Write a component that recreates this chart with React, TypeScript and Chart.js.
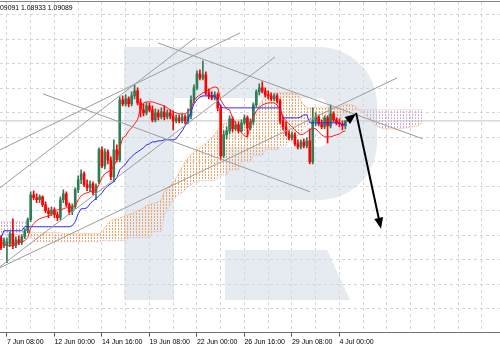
import React, { useEffect, useRef } from 'react';
import { Chart, registerables } from 'chart.js';

Chart.register(...registerables);

// ---- EURUSD H4 candles (bar index 0 = 7 Jun 00:00) ----
const opens = [
  1.0675,1.0659,1.0659,1.0663,1.0683,1.0659,1.0671,1.0665,1.0677,1.0689,
  1.0711,1.0761,1.0755,1.0751,1.0757,1.0741,1.0729,1.0723,1.0731,1.0721,
  1.0715,1.0751,1.0763,1.0741,1.0727,1.0737,1.0771,1.0791,1.0803,1.0781,
  1.0775,1.0783,1.0765,1.0787,1.0851,1.0819,1.0847,1.0831,1.0797,1.0851,
  1.0831,1.0951,1.0943,1.0953,1.0943,1.0959,1.0969,1.0945,1.0931,1.0925,
  1.0939,1.0931,1.0911,1.0925,1.0917,1.0927,1.0917,1.0925,1.0919,1.0909,
  1.0915,1.0909,1.0917,1.0909,1.0919,1.0951,1.0975,1.1003,1.0995,1.1001,
  1.0965,1.0959,1.0955,1.0961,1.0935,1.0839,1.0881,1.0889,1.0913,1.0893,
  1.0901,1.0889,1.0905,1.0915,1.0895,1.0907,1.0941,1.0967,1.0975,1.0969,
  1.0961,1.0959,1.0953,1.0959,1.0949,1.0909,1.0897,1.0883,1.0875,1.0881,
  1.0863,1.0857,1.0867,1.0859,1.0869,1.0827,1.0909,1.0917,1.0903,1.0897,
  1.0915,1.0899,1.0923,1.0911,1.0905,1.0903,1.0899,
];
const highs = [
  1.0679,1.0675,1.0675,1.0687,1.0713,1.0677,1.0679,1.0681,1.0693,1.0715,
  1.0767,1.0769,1.0763,1.0761,1.0759,1.0747,1.0735,1.0737,1.0735,1.0727,
  1.0757,1.0771,1.0767,1.0745,1.0743,1.0775,1.0799,1.0811,1.0807,1.0791,
  1.0789,1.0787,1.0783,1.0855,1.0857,1.0853,1.0851,1.0837,1.0871,1.0861,
  1.0957,1.0959,1.0961,1.0957,1.0967,1.0981,1.0975,1.0953,1.0943,1.0945,
  1.0945,1.0939,1.0933,1.0931,1.0935,1.0939,1.0931,1.0931,1.0929,1.0921,
  1.0921,1.0923,1.0921,1.0933,1.0959,1.0981,1.1009,1.1011,1.1029,1.1007,
  1.0973,1.0967,1.0967,1.0965,1.0941,1.0889,1.0897,1.0919,1.0917,1.0907,
  1.0907,1.0911,1.0921,1.0919,1.0913,1.0945,1.0971,1.0983,1.0987,1.0975,
  1.0969,1.0965,1.0963,1.0963,1.0953,1.0917,1.0907,1.0889,1.0887,1.0885,
  1.0871,1.0871,1.0873,1.0875,1.0893,1.0935,1.0925,1.0921,1.0911,1.0919,
  1.0919,1.0941,1.0927,1.0915,1.0913,1.0909,1.0909,
];
const lows = [
  1.0651,1.0655,1.0625,1.0657,1.0653,1.0655,1.0661,1.0661,1.0673,1.0685,
  1.0707,1.0751,1.0745,1.0745,1.0737,1.0725,1.0715,1.0719,1.0715,1.0709,
  1.0711,1.0745,1.0737,1.0721,1.0721,1.0733,1.0765,1.0783,1.0777,1.0769,
  1.0767,1.0761,1.0751,1.0783,1.0815,1.0813,1.0823,1.0791,1.0787,1.0827,
  1.0827,1.0939,1.0939,1.0937,1.0939,1.0953,1.0941,1.0917,1.0919,1.0921,
  1.0927,1.0907,1.0907,1.0911,1.0913,1.0911,1.0913,1.0913,1.0891,1.0905,
  1.0905,1.0905,1.0903,1.0903,1.0913,1.0945,1.0971,1.0991,1.0991,1.0961,
  1.0953,1.0951,1.0951,1.0929,1.0831,1.0835,1.0873,1.0883,1.0887,1.0889,
  1.0885,1.0887,1.0901,1.0877,1.0891,1.0901,1.0937,1.0961,1.0965,1.0957,
  1.0953,1.0949,1.0949,1.0945,1.0903,1.0891,1.0879,1.0871,1.0871,1.0859,
  1.0853,1.0853,1.0855,1.0855,1.0823,1.0823,1.0899,1.0899,1.0893,1.0893,
  1.0865,1.0895,1.0907,1.0901,1.0897,1.0891,1.0893,
];
const closes = [
  1.0655,1.0671,1.0667,1.0683,1.0659,1.0671,1.0665,1.0677,1.0689,1.0711,
  1.0761,1.0755,1.0751,1.0757,1.0741,1.0729,1.0723,1.0731,1.0721,1.0715,
  1.0751,1.0763,1.0741,1.0727,1.0737,1.0771,1.0791,1.0803,1.0781,1.0775,
  1.0783,1.0765,1.0779,1.0851,1.0819,1.0847,1.0831,1.0797,1.0851,1.0831,
  1.0951,1.0943,1.0953,1.0943,1.0959,1.0969,1.0945,1.0931,1.0925,1.0939,
  1.0931,1.0911,1.0925,1.0917,1.0927,1.0917,1.0925,1.0919,1.0909,1.0915,
  1.0909,1.0917,1.0909,1.0919,1.0951,1.0975,1.1003,1.0995,1.1001,1.0965,
  1.0959,1.0955,1.0961,1.0935,1.0839,1.0881,1.0889,1.0913,1.0893,1.0901,
  1.0889,1.0905,1.0915,1.0895,1.0907,1.0941,1.0967,1.0975,1.0969,1.0961,
  1.0959,1.0953,1.0959,1.0949,1.0909,1.0897,1.0883,1.0875,1.0881,1.0863,
  1.0857,1.0867,1.0859,1.0869,1.0827,1.0909,1.0917,1.0903,1.0897,1.0915,
  1.0899,1.0923,1.0911,1.0905,1.0903,1.0899,1.0909,
];

// ---- Ichimoku lines ----
const tenkan = [
  1.0665,1.0663,1.0659,1.0659,1.0661,1.0663,1.0665,1.0667,1.0669,1.0675,
  1.0695,1.0703,1.0709,1.0713,1.0715,1.0717,1.0719,1.0721,1.0727,1.0731,
  1.0731,1.0733,1.0735,1.0735,1.0737,1.0739,1.0751,1.0759,1.0763,1.0765,
  1.0767,1.0769,1.0771,1.0781,1.0795,1.0803,1.0807,1.0809,1.0819,1.0831,
  1.0855,1.0875,1.0879,1.0889,1.0895,1.0903,1.0911,1.0935,1.0945,1.0947,
  1.0947,1.0947,1.0945,1.0943,1.0941,1.0939,1.0935,1.0931,1.0927,1.0925,
  1.0923,1.0923,1.0923,1.0927,1.0935,1.0949,1.0957,1.0961,1.0965,1.0967,
  1.0971,1.0975,1.0977,1.0975,1.0951,1.0941,1.0933,1.0931,1.0915,1.0903,
  1.0895,1.0885,1.0879,1.0877,1.0901,1.0917,1.0929,1.0935,1.0941,1.0943,
  1.0945,1.0945,1.0945,1.0941,1.0931,1.0917,1.0909,1.0903,1.0897,1.0891,
  1.0885,1.0881,1.0883,1.0887,1.0891,1.0895,1.0893,1.0887,1.0881,1.0877,
  1.0877,1.0877,1.0879,1.0881,1.0883,1.0887,1.0889,
];
const kijun = [
  1.0675,1.0689,1.0689,1.0689,1.0689,1.0689,1.0689,1.0689,1.0697,1.0697,
  1.0697,1.0697,1.0697,1.0697,1.0697,1.0697,1.0697,1.0697,1.0697,1.0697,
  1.0697,1.0697,1.0697,1.0697,1.0699,1.0707,1.0723,1.0733,1.0733,1.0735,
  1.0743,1.0749,1.0753,1.0759,1.0765,1.0773,1.0779,1.0783,1.0787,1.0795,
  1.0811,1.0817,1.0823,1.0831,1.0837,1.0843,1.0847,1.0851,1.0855,1.0861,
  1.0863,1.0867,1.0867,1.0869,1.0869,1.0871,1.0871,1.0871,1.0871,1.0873,
  1.0881,1.0889,1.0899,1.0911,1.0927,1.0943,1.0951,1.0957,1.0959,1.0959,
  1.0959,1.0959,1.0959,1.0951,1.0937,1.0935,1.0935,1.0935,1.0935,1.0935,
  1.0935,1.0935,1.0935,1.0935,1.0935,1.0935,1.0935,1.0935,1.0935,1.0935,
  1.0935,1.0935,1.0935,1.0935,1.0935,1.0915,1.0915,1.0915,1.0915,1.0915,
  1.0915,1.0917,1.0921,1.0921,1.0905,1.0905,1.0905,1.0905,1.0905,1.0905,
  1.0905,1.0905,1.0905,1.0905,1.0905,1.0901,1.0903,
];
// Senkou spans run 26 bars past the last candle (indices 0..142)
const senkouA = [
  1.0681,1.0681,1.0681,1.0681,1.0681,1.0681,1.0681,1.0681,1.0681,1.0685,
  1.0685,1.0685,1.0685,1.0685,1.0685,1.0685,1.0685,1.0685,1.0685,1.0685,
  1.0685,1.0683,1.0683,1.0683,1.0683,1.0683,1.0683,1.0683,1.0683,1.0683,
  1.0683,1.0683,1.0683,1.0683,1.0687,1.0695,1.0703,1.0709,1.0711,1.0713,
  1.0715,1.0717,1.0719,1.0721,1.0723,1.0725,1.0729,1.0731,1.0735,1.0739,
  1.0741,1.0743,1.0745,1.0747,1.0751,1.0767,1.0773,1.0779,1.0785,1.0795,
  1.0805,1.0817,1.0827,1.0835,1.0841,1.0847,1.0851,1.0855,1.0859,1.0865,
  1.0871,1.0875,1.0881,1.0891,1.0899,1.0903,1.0905,1.0907,1.0909,1.0911,
  1.0911,1.0911,1.0911,1.0911,1.0911,1.0915,1.0927,1.0941,1.0951,1.0957,
  1.0961,1.0965,1.0965,1.0965,1.0965,1.0965,1.0965,1.0965,1.0965,1.0965,
  1.0959,1.0951,1.0941,1.0935,1.0935,1.0935,1.0935,1.0935,1.0935,1.0935,
  1.0935,1.0935,1.0935,1.0935,1.0935,1.0939,1.0941,1.0941,1.0941,1.0939,
  1.0935,1.0929,1.0925,1.0919,1.0913,1.0907,1.0901,1.0897,1.0895,1.0893,
  1.0893,1.0893,1.0893,1.0893,1.0893,1.0893,1.0895,1.0895,1.0897,1.0897,
  1.0899,1.0901,1.0905,
];
const senkouB = [
  1.0707,1.0707,1.0707,1.0707,1.0707,1.0707,1.0707,1.0707,1.0707,1.0707,
  1.0679,1.0667,1.0667,1.0667,1.0667,1.0667,1.0667,1.0667,1.0667,1.0667,
  1.0667,1.0667,1.0667,1.0667,1.0667,1.0667,1.0667,1.0667,1.0667,1.0667,
  1.0667,1.0667,1.0667,1.0667,1.0669,1.0669,1.0669,1.0669,1.0669,1.0669,
  1.0669,1.0669,1.0669,1.0675,1.0675,1.0675,1.0675,1.0675,1.0675,1.0675,
  1.0675,1.0687,1.0687,1.0687,1.0687,1.0721,1.0731,1.0741,1.0751,1.0757,
  1.0761,1.0765,1.0771,1.0777,1.0781,1.0785,1.0787,1.0789,1.0789,1.0789,
  1.0789,1.0789,1.0789,1.0795,1.0801,1.0801,1.0801,1.0811,1.0811,1.0811,
  1.0811,1.0827,1.0827,1.0827,1.0827,1.0839,1.0839,1.0839,1.0839,1.0851,
  1.0851,1.0851,1.0851,1.0851,1.0859,1.0859,1.0859,1.0869,1.0869,1.0869,
  1.0881,1.0881,1.0897,1.0897,1.0907,1.0907,1.0907,1.0907,1.0907,1.0907,
  1.0907,1.0907,1.0907,1.0907,1.0907,1.0921,1.0921,1.0921,1.0927,1.0931,
  1.0931,1.0931,1.0931,1.0931,1.0931,1.0931,1.0931,1.0931,1.0931,1.0931,
  1.0931,1.0931,1.0931,1.0931,1.0931,1.0931,1.0931,1.0931,1.0931,1.0931,
  1.0931,1.0931,1.0931,
];

// ---- axis ----
const labelBars = [2, 18, 34, 50, 66, 82, 98, 114];
const labelTexts = ['7 Jun 08:00', '12 Jun 00:00', '14 Jun 16:00', '19 Jun 08:00', '22 Jun 00:00', '26 Jun 16:00', '29 Jun 08:00', '4 Jul 00:00'];
const gridBars = [2, 10, 18, 26, 34, 42, 50, 58, 66, 74, 82, 90, 98, 106, 114, 122, 130, 138, 146, 154, 162];
const gridPrices = [1.1121, 1.1072, 1.1023, 1.0974, 1.0925, 1.0876, 1.0827, 1.0778, 1.0729, 1.0680, 1.0631, 1.0582, 1.0533];
const barMin = -0.3368;
const barMax = 168.08;
const priceMin = 1.0485;
const priceMax = 1.1147;

// ---- drawn objects ----
const trendStartBar = [14.15, 52.9, -0.34, -0.34, -0.34, -0.34];
const trendStartPrice = [1.0963, 1.1065, 1.0851, 1.0775, 1.0617, 1.0615];
const trendEndBar = [104.1, 142.1, 80.5, 65.3, 92.3, 133.4];
const trendEndPrice = [1.0767, 1.0873, 1.1085, 1.1075, 1.1037, 1.0995];
const arrowFromBar = [116.5, 119.6];
const arrowFromPrice = [1.0909, 1.0925];
const arrowToBar = [119.6, 128.0];
const arrowToPrice = [1.0923, 1.0693];
const bidPrice = 1.09089;
const headerText = '09091 1.08933 1.09089';

const FONT = "'Liberation Sans', Arial, sans-serif";

export default function App() {
  const ref = useRef<HTMLCanvasElement>(null);

  useEffect(() => {
    const canvas = ref.current!;
    const ctx = canvas.getContext('2d')!;
    const mkPattern = (color: string) => {
      const p = document.createElement('canvas');
      p.width = 3; p.height = 3;
      const g = p.getContext('2d')!;
      g.fillStyle = color;
      g.fillRect(1, 0, 1, 2);
      return ctx.createPattern(p, 'repeat')!;
    };
    const orangeHatch = mkPattern('#f4a460');
    const thistleHatch = mkPattern('#cfaed6');

    const colors = closes.map((c, i) => (c >= opens[i] ? '#2f7d57' : '#ff0000'));
    const wicks = highs.map((h, i) => ({ x: i, y: [lows[i], h] }));
    const bodies = opens.map((o, i) => ({ x: i, y: [o, closes[i]] }));
    const toPts = (arr: number[]) => arr.map((v, i) => ({ x: i, y: v }));

    const trendSets = trendStartBar.map((b, k) => ({
      type: 'line',
      data: [{ x: b, y: trendStartPrice[k] }, { x: trendEndBar[k], y: trendEndPrice[k] }],
      borderColor: '#9c9c9c',
      borderWidth: 1,
      pointRadius: 0,
      fill: false,
      order: 2,
    }));

    const bg = {
      id: 'bg',
      beforeDraw(chart: any) {
        const c = chart.ctx;
        c.save();
        c.fillStyle = '#ffffff';
        c.fillRect(0, 0, chart.width, chart.height);
        // watermark logo
        const logo = '#e6eaf1';
        c.fillStyle = logo;
        c.fillRect(124, 47, 50, 253);
        c.beginPath();
        c.roundRect(124, 47, 253, 153, [0, 58, 58, 0]);
        c.fill();
        c.fillStyle = '#ffffff';
        c.beginPath();
        c.roundRect(174, 98, 153, 49, [0, 8, 8, 0]);
        c.fill();
        c.fillRect(174, 140, 51, 160);
        c.fillStyle = logo;
        c.beginPath();
        c.moveTo(225, 250); c.lineTo(327, 250); c.lineTo(350, 300); c.lineTo(225, 300);
        c.closePath();
        c.fill();
        c.restore();
      },
    };

    const overlay = {
      id: 'overlay',
      afterDatasetsDraw(chart: any) {
        const c = chart.ctx;
        const xs = chart.scales.x, ys = chart.scales.y;
        c.save();
        c.strokeStyle = '#000';
        c.fillStyle = '#000';
        c.lineWidth = 2;
        for (let k = 0; k < arrowFromBar.length; k++) {
          const x0 = xs.getPixelForValue(arrowFromBar[k]);
          const y0 = ys.getPixelForValue(arrowFromPrice[k]);
          const x1 = xs.getPixelForValue(arrowToBar[k]);
          const y1 = ys.getPixelForValue(arrowToPrice[k]);
          const a = Math.atan2(y1 - y0, x1 - x0);
          const hl = 11, hw = 4.5;
          const bx = x1 - hl * Math.cos(a), by = y1 - hl * Math.sin(a);
          c.beginPath(); c.moveTo(x0, y0); c.lineTo(bx, by); c.stroke();
          c.beginPath();
          c.moveTo(x1, y1);
          c.lineTo(bx - hw * Math.sin(a), by + hw * Math.cos(a));
          c.lineTo(bx + hw * Math.sin(a), by - hw * Math.cos(a));
          c.closePath();
          c.fill();
        }
        c.restore();
      },
      afterDraw(chart: any) {
        const c = chart.ctx;
        c.save();
        c.fillStyle = '#858585';
        c.fillRect(0, 1, chart.width, 1);
        c.fillStyle = '#000';
        c.font = `8px ${FONT}`;
        c.textBaseline = 'middle';
        c.textAlign = 'left';
        c.scale(0.86, 1);
        c.fillText(headerText, 0, 7.5);
        c.restore();
      },
    };

    const chart = new Chart(canvas, {
      type: 'bar',
      data: {
        datasets: [
          {
            type: 'line', data: toPts(senkouA), borderColor: '#f4a460', borderWidth: 1, borderDash: [1, 1],
            pointRadius: 0, fill: { target: '+1', above: orangeHatch, below: thistleHatch }, order: 20,
          },
          {
            type: 'line', data: toPts(senkouB), borderColor: '#d8bfd8', borderWidth: 1, borderDash: [1, 1],
            pointRadius: 0, fill: false, order: 19,
          },
          {
            type: 'line', data: [{ x: barMin, y: bidPrice }, { x: barMax, y: bidPrice }], borderColor: '#c4c4c4',
            borderWidth: 1, pointRadius: 0, fill: false, order: 18,
          },
          {
            type: 'bar', data: wicks, backgroundColor: colors, barThickness: 1, grouped: false, order: 10,
          },
          {
            type: 'bar', data: bodies, backgroundColor: colors, barThickness: 2, grouped: false, minBarLength: 1, order: 9,
          },
          { type: 'line', data: toPts(tenkan), borderColor: '#ff1a1a', borderWidth: 1, pointRadius: 0, fill: false, order: 5 },
          { type: 'line', data: toPts(kijun), borderColor: '#2626ff', borderWidth: 1, pointRadius: 0, fill: false, order: 5 },
          ...trendSets,
        ] as any,
      },
      options: {
        animation: false,
        responsive: false,
        devicePixelRatio: 1,
        events: [],
        layout: { padding: { top: 2, bottom: 3, left: 0, right: 0 } },
        plugins: { legend: { display: false }, tooltip: { enabled: false }, title: { display: false } },
        scales: {
          x: {
            type: 'linear', min: barMin, max: barMax, offset: false,
            afterBuildTicks: (s: any) => { s.ticks = gridBars.map((v) => ({ value: v })); },
            ticks: {
              autoSkip: false, maxRotation: 0, minRotation: 0, align: 'start', padding: 1, color: '#000',
              font: { size: 7, family: FONT },
              callback: (v: any) => { const k = labelBars.indexOf(v); return k >= 0 ? labelTexts[k] : ''; },
            },
            grid: {
              color: '#d6d6d6', lineWidth: 1, drawTicks: true, tickLength: 4, offset: false,
              tickColor: (c: any) => (c.tick && labelBars.includes(c.tick.value) ? '#555' : 'rgba(0,0,0,0)'),
            },
            border: { display: true, color: '#6f6f6f', width: 1, dash: [3, 3] },
          },
          y: {
            type: 'linear', min: priceMin, max: priceMax, beginAtZero: false,
            afterBuildTicks: (s: any) => { s.ticks = gridPrices.map((v) => ({ value: v })); },
            ticks: { display: false },
            grid: { color: '#d6d6d6', lineWidth: 1, drawTicks: false },
            border: { display: false, dash: [3, 3] },
          },
        },
      } as any,
      plugins: [bg, overlay],
    });
    return () => chart.destroy();
  }, []);

  return (
    <div style={{ position: 'absolute', left: 0, top: 0, width: 500, height: 350 }}>
      <canvas ref={ref} width={500} height={350} style={{ display: 'block' }} />
    </div>
  );
}
